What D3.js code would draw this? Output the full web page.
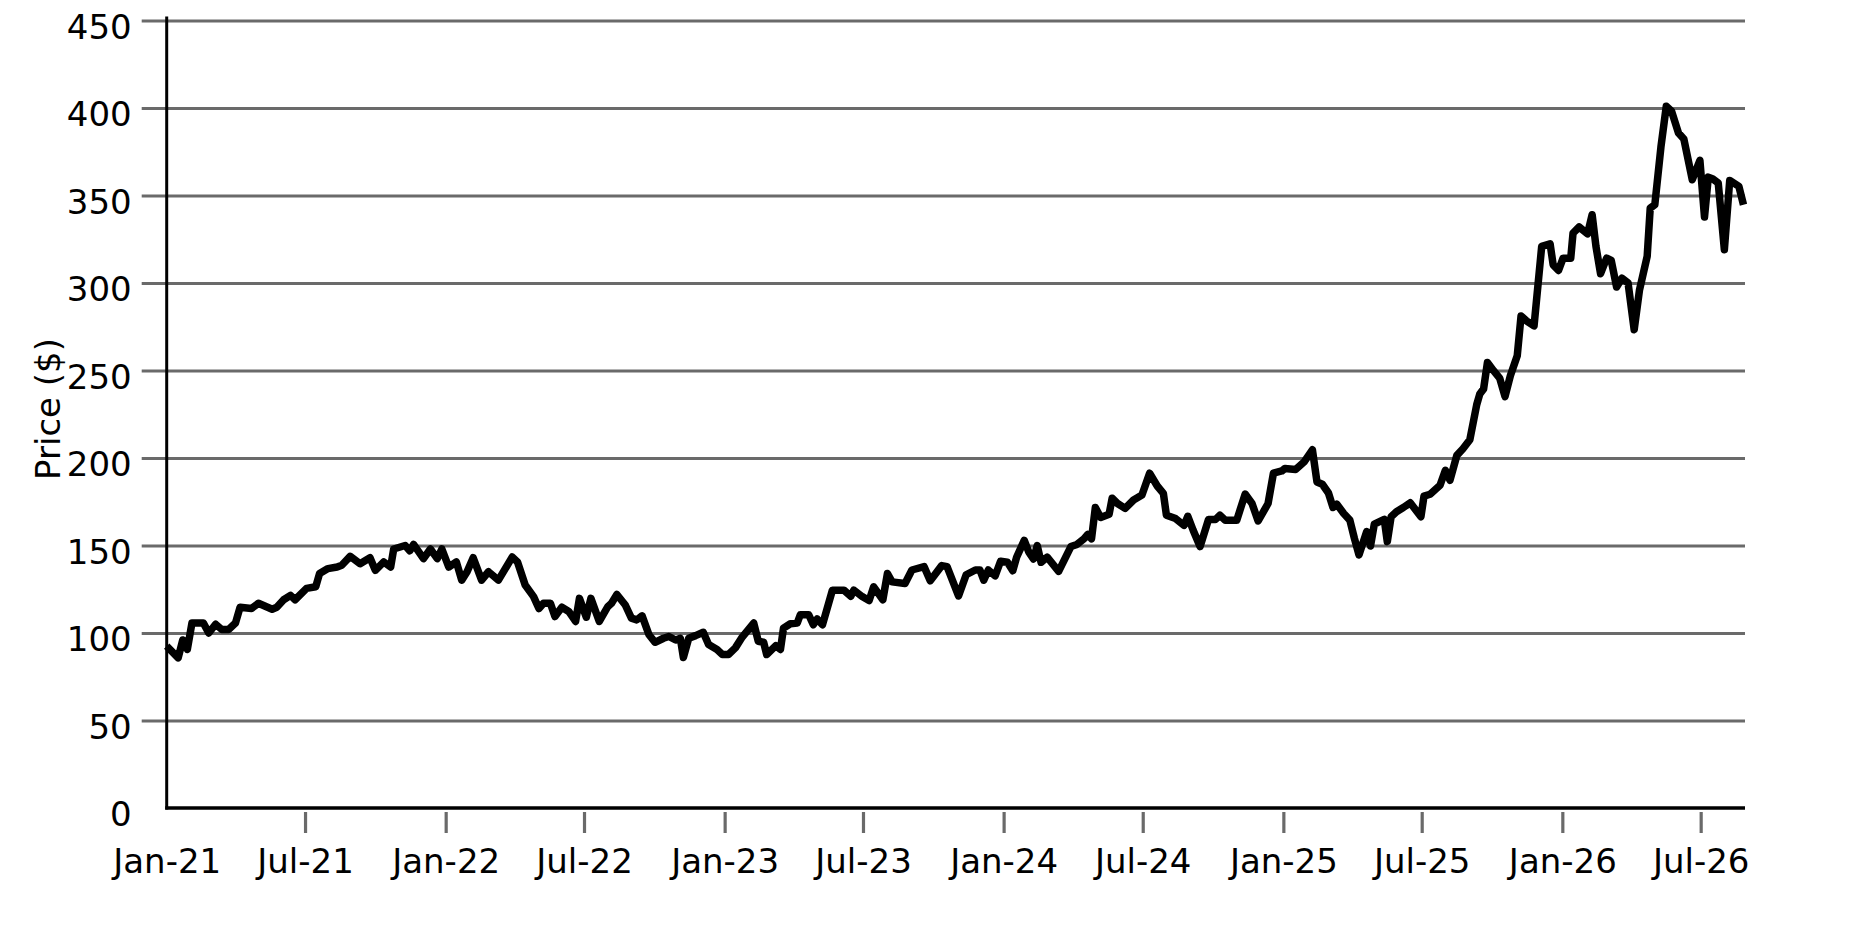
<!DOCTYPE html>
<html>
<head>
<meta charset="utf-8">
<script src="https://cdn.jsdelivr.net/npm/d3@7"></script>
<style>
  html, body { margin: 0; padding: 0; background: #ffffff; }
  svg { display: block; }
</style>
</head>
<body>
<svg id="chart" width="1875" height="938"></svg>
<script>
// ---- data ----
const startDate = "2021-01-01";
const endDate = "2026-08-28";
// week offsets since startDate of each vertex
const weekOffsets = [
  0, 2.2, 3, 3.8, 4.7, 6.9, 7.8, 9.1, 10.3, 11.6, 12.8, 13.7, 15.9, 17.2, 19.7, 20.6,
  21.8, 23.1, 24, 26.2, 27.8, 28.6, 30.2, 31.8, 32.7, 34.3, 36.2, 38, 39, 40.5, 41.8,
  42.4, 44.6, 45.4, 46.1, 48, 49.3, 50.5, 51.4, 52.7, 54.2, 55.2, 56.1, 57.3, 58.9,
  60.2, 62, 64.5, 65.5, 67, 68.6, 69.5, 70.4, 71.7, 72.6, 73.9, 75.1, 76.4, 77.2,
  78.4, 79.3, 80.9, 82.4, 83.2, 84.1, 85.7, 86.9, 87.9, 88.8, 90.1, 91.3, 92.9, 93.8,
  95.1, 96, 96.6, 97.5, 98.8, 100.3, 101.3, 102.8, 103.8, 105, 106.3, 107.5, 109.7,
  110.6, 111.5, 112.2, 113.8, 114.7, 115.3, 116.6, 117.8, 118.4, 120, 120.9, 121.6,
  122.5, 124.4, 126.5, 127.8, 128.4, 130, 131.3, 132.2, 133.8, 134.7, 135.6, 138,
  139.3, 141.5, 142.7, 144.9, 145.8, 148, 149.4, 151.1, 152, 152.7, 153.6, 154.9,
  155.8, 157.1, 158.2, 158.9, 160.3, 161.1, 162, 162.7, 163.4, 164.5, 166.7, 169,
  170.1, 171.4, 172.1, 172.9, 173.6, 174.5, 176.1, 176.7, 177.7, 179.2, 180.7, 182.3,
  183.7, 185.1, 186.3, 186.8, 188.5, 190.1, 190.8, 191.9, 193.1, 194.7, 196, 196.9,
  197.9, 200, 201.6, 202.8, 204, 205.9, 206.9, 208.4, 209, 211, 212.5, 214.2, 215,
  216, 217.2, 218, 218.7, 220, 221.1, 222, 222.8, 224.3, 225, 225.7, 227.5, 228.2,
  228.8, 229.8, 231.2, 232.4, 234.4, 235, 236.2, 238, 239, 239.9, 241.1, 242.3, 243.5,
  244.8, 245.4, 246.1, 246.9, 248, 249.1, 250.2, 251.2, 252.4, 253.1, 254.2, 255.5,
  257, 258.5, 259.2, 260.1, 261, 262.4, 262.9, 264, 265.5, 266.4, 267.2, 268, 269.2,
  270, 271, 272, 273.1, 274.3, 275.3, 276.7, 277.3, 278.2, 279.3, 280.3, 281.3, 282.6,
  283.5, 285.1, 286.6, 287.4, 288.2, 289, 290, 291.1, 292.2, 293.9, 294.7
];
const prices = [
  92.5, 85.8, 96, 90.6, 105.7, 105.7, 100, 105, 102, 102, 105.7, 114.7, 114, 117, 113.6, 114.7,
  119, 121.5, 119, 125.5, 126.4, 134, 136.8, 137.7, 138.7, 143.8, 139.6, 143, 135.8, 140.6, 137.7,
  148, 150, 147, 150.6, 142.5, 148, 142.5, 148, 137.7, 140.6, 130.2, 135, 143, 130.2,
  135, 130.2, 143.4, 140.6, 127.4, 120.8, 114, 117, 117, 109.4, 114.7, 112.3, 106.6, 119.8,
  109, 119.8, 106.6, 115, 117, 122, 116, 108.5, 107.5, 109.8, 99, 94.7, 97, 98,
  96, 97, 86, 97, 98.5, 100.4, 93.4, 90.6, 87.7, 87.7, 91.5, 97.7, 105.7,
  95.3, 94.7, 87.7, 92.8, 90.6, 102.8, 105.3, 105.7, 110.4, 110.4, 104.7, 108,
  104.7, 124.5, 124.5, 121, 124.5, 120.8, 118.5, 126.4, 119, 134, 129.2, 128.3,
  136, 137.9, 129.8, 138.5, 137.9, 121.2, 133.3, 136, 136, 130.2, 136, 132.7,
  141, 140.4, 135.6, 143.3, 152.9, 146.2, 142.3, 150, 140.4, 143.3, 135.2, 149.4,
  150.6, 153.8, 156.3, 153.8, 171.7, 166, 167.9, 177, 174, 171.2, 176, 178.8,
  191.3, 184, 179.8, 167.3, 165.4, 161.5, 166.7, 158.7, 149.4, 164.8, 164.8, 167.3,
  164.4, 164.4, 179.4, 174, 164, 174, 191.3, 192.6, 194, 193.4, 197.7, 204.7, 186.3,
  185, 180, 171.7, 173.6, 168.3, 164.5, 154, 144.6, 157.9, 149.7, 162.2, 164.9, 152.2,
  166.4, 169.3, 171.7, 174.4, 166.4, 178.2, 179.3, 184.4, 193, 187.3, 201.5, 205.3, 210.4,
  230.5, 236.6, 239.5, 254.6, 249.9, 245.7, 235.1, 247, 258.4, 281.2, 278.4, 275.5,
  320.9, 322.4, 310.4, 307.2, 314.2, 314.2, 328.5, 332, 328.1, 339, 320.9, 305.3, 314.2,
  312.9, 297.7, 302.8, 300, 273.3, 296.1, 315.2, 342.8, 344.7, 377.7, 401, 398.1, 385.7,
  382.3, 359, 370.1, 337.7, 360.5, 359.4, 357.1, 319, 358.6, 355.2, 344.7
];
const yTickValues = [0, 50, 100, 150, 200, 250, 300, 350, 400, 450];
const yLabel = "Price ($)";
const xTickFormat = "%b-%y";

// ---- chart ----
(function () {
  const svg = d3.select("#chart");
  const pL = 166.7, pR = 1745, pT = 20.5, pB = 808;
  const FONT = "DejaVu Sans, Liberation Sans, sans-serif";

  const parse = d3.timeParse("%Y-%m-%d");
  const t0 = parse(startDate);
  const data = weekOffsets.map((w, i) => ({
    date: d3.timeDay.offset(t0, Math.round(w * 7)),
    value: prices[i]
  }));

  const x = d3.scaleTime().domain([t0, parse(endDate)]).range([pL, pR]);
  const y = d3.scaleLinear().domain([0, 450]).range([pB, pT]);

  // y gridlines + labels
  const yAxisG = svg.append("g")
    .attr("transform", `translate(${pL - 25},0)`)
    .call(d3.axisLeft(y).tickValues(yTickValues)
      .tickSize(-(pR - pL + 25)).tickPadding(10).tickFormat(d3.format("d")));
  yAxisG.select(".domain").remove();
  yAxisG.selectAll(".tick line")
    .attr("stroke", "#6a6a6a").attr("stroke-width", 3.2)
    .attr("display", d => d === 0 ? "none" : null);
  yAxisG.selectAll(".tick text")
    .attr("fill", "#000").attr("font-family", FONT).attr("font-size", 34)
    .attr("dy", "0.52em");

  // x axis ticks + labels
  const xAxisG = svg.append("g")
    .attr("transform", `translate(0,${pB + 4})`)
    .call(d3.axisBottom(x).ticks(d3.timeMonth.every(6))
      .tickSize(21).tickFormat(d3.timeFormat(xTickFormat)));
  xAxisG.select(".domain").remove();
  xAxisG.selectAll(".tick line")
    .attr("stroke", "#6a6a6a").attr("stroke-width", 3.2)
    .attr("display", (d, i) => i === 0 ? "none" : null);
  xAxisG.selectAll(".tick text")
    .attr("fill", "#000").attr("font-family", FONT).attr("font-size", 34)
    .attr("y", 61).attr("dy", 0);

  // price line
  const line = d3.line().x(d => x(d.date)).y(d => y(d.value));
  svg.append("path")
    .datum(data)
    .attr("d", line)
    .attr("fill", "none")
    .attr("stroke", "#000")
    .attr("stroke-width", 7.5)
    .attr("stroke-linejoin", "round")
    .attr("stroke-linecap", "butt");

  // black axis lines
  svg.append("line")
    .attr("x1", pL).attr("x2", pL).attr("y1", pT - 4).attr("y2", pB + 1.5)
    .attr("stroke", "#000").attr("stroke-width", 3);
  svg.append("line")
    .attr("x1", pL - 1.5).attr("x2", pR).attr("y1", pB).attr("y2", pB)
    .attr("stroke", "#000").attr("stroke-width", 3.5);

  // y axis title
  svg.append("text")
    .attr("transform", `translate(60,409) rotate(-90)`)
    .attr("text-anchor", "middle")
    .attr("font-family", FONT).attr("font-size", 34).attr("fill", "#000")
    .text(yLabel);
})();
</script>
</body>
</html>
